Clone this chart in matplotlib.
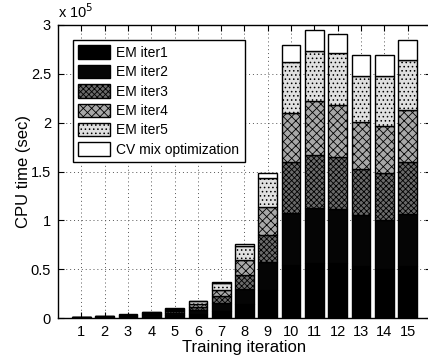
import matplotlib
matplotlib.use("Agg")
import matplotlib.pyplot as plt
import numpy as np

plt.rcParams.update({
    "font.family": ["Liberation Sans", "DejaVu Sans"],
    "font.size": 10.5,
    "hatch.linewidth": 0.6,
})

# training iterations and per-stage CPU time (units of 1e5 sec)
iterations = np.arange(1, 16)
em_iter1 = [0.003, 0.005, 0.008, 0.014, 0.027, 0.04, 0.075, 0.148, 0.285,
            0.54, 0.565, 0.56, 0.53, 0.50, 0.53]
em_iter2 = [0.003, 0.005, 0.008, 0.014, 0.027, 0.04, 0.075, 0.147, 0.285,
            0.54, 0.565, 0.56, 0.53, 0.50, 0.535]
em_iter3 = [0.002, 0.004, 0.007, 0.010, 0.015, 0.03, 0.075, 0.145, 0.28,
            0.52, 0.54, 0.53, 0.47, 0.48, 0.535]
em_iter4 = [0.002, 0.004, 0.006, 0.010, 0.015, 0.03, 0.06, 0.15, 0.29,
            0.50, 0.55, 0.53, 0.48, 0.49, 0.53]
em_iter5 = [0.002, 0.004, 0.006, 0.010, 0.014, 0.03, 0.07, 0.15, 0.29,
            0.52, 0.51, 0.53, 0.47, 0.51, 0.51]
cv_mix = [0.001, 0.002, 0.003, 0.002, 0.002, 0.01, 0.015, 0.02, 0.06,
          0.18, 0.22, 0.20, 0.21, 0.21, 0.21]

series = [
    ("EM iter1", em_iter1, "#000000", None),
    ("EM iter2", em_iter2, "#050505", None),
    ("EM iter3", em_iter3, "#6a6a6a", "xxxxxx"),
    ("EM iter4", em_iter4, "#a8a8a8", "xxxx"),
    ("EM iter5", em_iter5, "#e0e0e0", "...."),
    ("CV mix optimization", cv_mix, "#ffffff", None),
]

fig = plt.figure(figsize=(4.28, 3.57), dpi=100)
ax = fig.add_axes([0.1355, 0.109, 0.8715, 0.821])

bottom = np.zeros(len(iterations))
for label, vals, col, hatch in series:
    vals = np.array(vals)
    ax.bar(iterations, vals, width=0.8, bottom=bottom, color=col,
           edgecolor="black", linewidth=1.0, hatch=hatch, label=label,
           zorder=3)
    bottom += vals

ax.set_xlim(0, 16)
ax.set_ylim(0, 3)
ax.set_xticks(iterations)
ax.set_yticks([0, 0.5, 1, 1.5, 2, 2.5, 3])
ax.set_yticklabels(["0", "0.5", "1", "1.5", "2", "2.5", "3"])
ax.tick_params(direction="in", top=True, right=True, length=4, pad=5)
ax.grid(True, linestyle=(0, (1, 3)), color="#555555", linewidth=0.7,
        zorder=0)
for s in ax.spines.values():
    s.set_linewidth(1.0)

ax.set_xlabel("Training iteration", fontsize=12, labelpad=1)
ax.set_ylabel("CPU time (sec)", fontsize=12, labelpad=0)
ax.text(0.0, 1.012, r"x 10$^5$", transform=ax.transAxes, ha="left",
        va="bottom", fontsize=10.5)

leg = ax.legend(loc="upper left", bbox_to_anchor=(0.04, 0.949),
                prop={"size": 10}, fancybox=False, framealpha=1,
                edgecolor="black", handlelength=2.3, handleheight=1.1,
                handletextpad=0.4, labelspacing=0.36, borderpad=0.4,
                borderaxespad=0)
leg.get_frame().set_linewidth(1.0)
leg.set_zorder(5)

fig.savefig("out.png", dpi=100)
